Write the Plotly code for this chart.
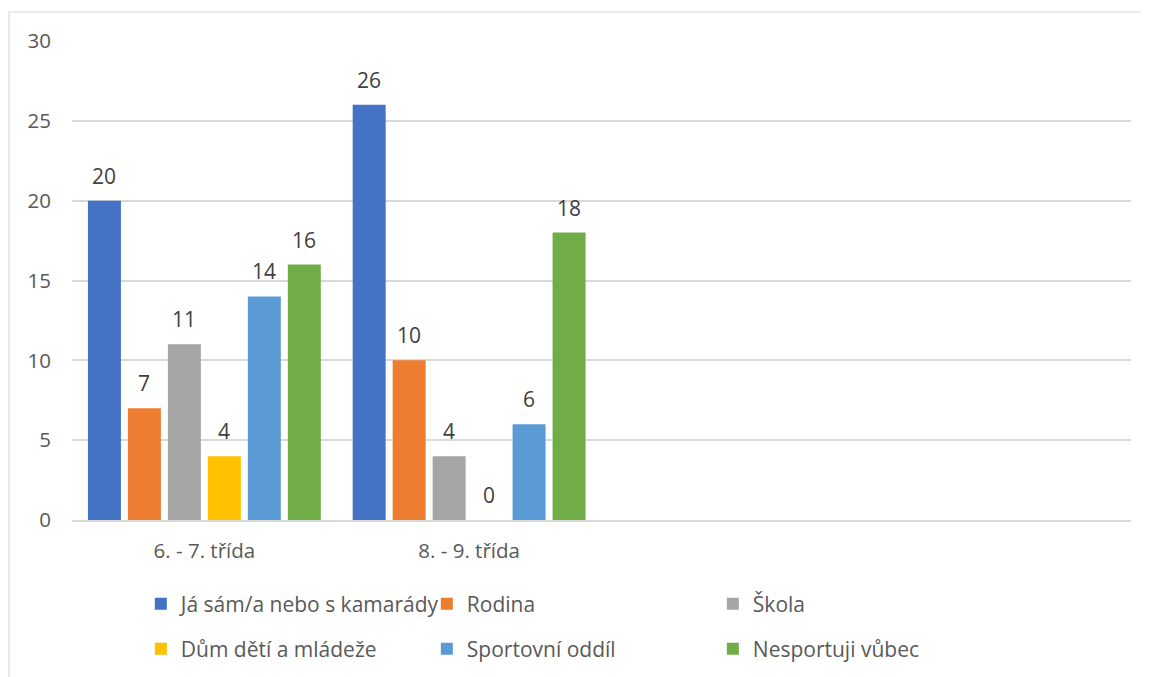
import plotly.graph_objects as go

# ---- data ----
categories = ["6. - 7. třída", "8. - 9. třída", "", ""]
series_names = ["Já sám/a nebo s kamarády", "Rodina", "Škola",
                "Dům dětí a mládeže", "Sportovní oddíl", "Nesportuji vůbec"]
ja_sam = [20, 26]
rodina = [7, 10]
skola = [11, 4]
ddm = [4, 0]
sportovni = [14, 6]
nesportuji = [16, 18]
y_ticks = [0, 5, 10, 15, 20, 25, 30]

series_values = [ja_sam, rodina, skola, ddm, sportovni, nesportuji]
colors = ["#4472C4", "#ED7D31", "#A5A5A5", "#FFC000", "#5B9BD5", "#70AD47"]

FONT = "Open Sans"
BARGAP = 0.094
GROUPGAP = 0.175
n_series = len(series_names)
slot = (1 - BARGAP) / n_series

fig = go.Figure()
annotations = []
for s, (name, vals) in enumerate(zip(series_names, series_values)):
    xs = list(range(len(vals)))
    fig.add_trace(go.Bar(
        x=xs, y=vals, name=name,
        marker=dict(color=colors[s], line=dict(width=0)),
        legend="legend" if s < 3 else "legend2",
        hoverinfo="skip",
    ))
    for i, v in enumerate(vals):
        annotations.append(dict(
            x=i + (s - (n_series - 1) / 2) * slot, y=v, xref="x", yref="y",
            text=str(v), showarrow=False, yanchor="middle", yshift=25,
            font=dict(family=FONT, size=21, color="#404040"),
        ))

legend_common = dict(
    orientation="h", xanchor="left", yanchor="middle",
    entrywidth=241, entrywidthmode="pixels",
    font=dict(family=FONT, size=21, color="#595959"),
    bgcolor="rgba(0,0,0,0)", itemclick=False, itemdoubleclick=False,
    traceorder="normal",
)

fig.update_layout(
    width=1141, height=669,
    margin=dict(l=64, r=18, t=33, b=157, autoexpand=False),
    paper_bgcolor="white", plot_bgcolor="white",
    barmode="group", bargap=BARGAP, bargroupgap=GROUPGAP,
    font=dict(family=FONT, size=20.5, color="#595959"),
    showlegend=True,
    legend=dict(x=0.065, y=-0.1754, **legend_common),
    legend2=dict(x=0.065, y=-0.2693, **legend_common),
    annotations=annotations,
    shapes=[dict(type="rect", xref="paper", yref="paper",
                 x0=-0.0595, x1=1.2, y0=-0.5, y1=1.0605,
                 line=dict(color="#D9D9D9", width=1.2), layer="below")],
    xaxis=dict(
        range=[-0.5, len(categories) - 0.5],
        tickmode="array", tickvals=list(range(len(categories))), ticktext=categories,
        showgrid=False, zeroline=False, showline=True,
        linecolor="#D9D9D9", linewidth=1.5, ticks="",
        tickfont=dict(family=FONT, size=20.5, color="#595959"),
        ticklabelstandoff=12,
    ),
    yaxis=dict(
        range=[0, 30], tickmode="array", tickvals=y_ticks,
        showgrid=True, gridcolor="#D9D9D9", gridwidth=1.5,
        zeroline=False, showline=False, ticks="",
        tickfont=dict(family=FONT, size=20.5, color="#595959"),
        ticklabelstandoff=20,
    ),
)

fig.write_html("out.html")
